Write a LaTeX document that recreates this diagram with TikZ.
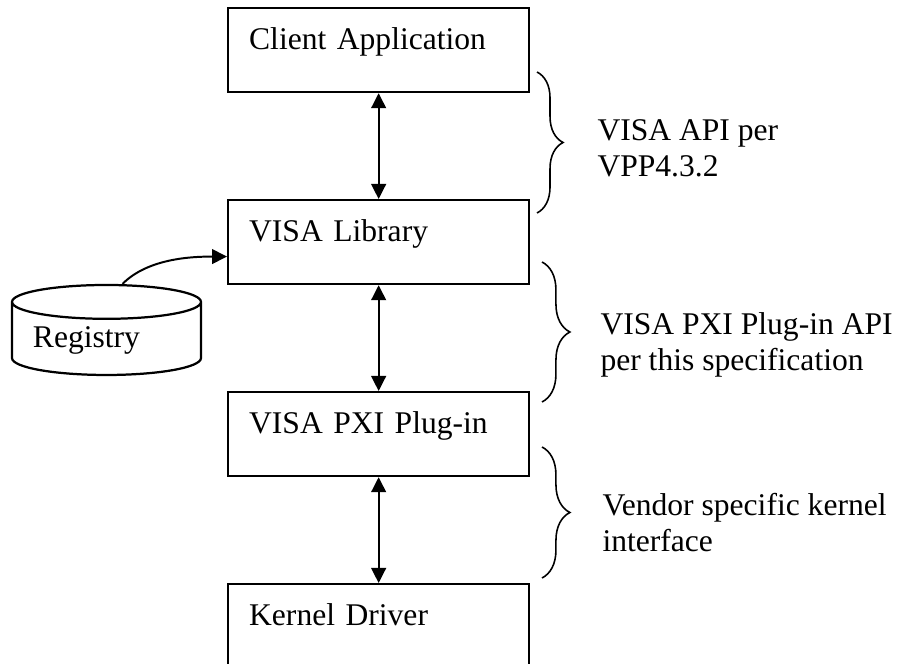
\documentclass[tikz,border=0pt]{standalone}
\usepackage{fontspec}
\setmainfont{Liberation Serif}
\usetikzlibrary{arrows.meta,decorations.pathreplacing,shapes.geometric}

\begin{document}
\begin{tikzpicture}[x=0.38pt,y=0.38pt,
        font=\fontsize{12}{13.7}\selectfont,
        capa/.style={draw,line width=0.85pt,anchor=north west,align=left,
            inner xsep=8pt,inner ysep=0pt,text width=98.4pt,
            text height=15.6pt,text depth=16.3pt},
        punta/.tip={Triangle[length=5.7pt,width=5.6pt]},
        flecha/.style={line width=0.75pt,punta-punta},
        llave/.style={decorate,decoration={brace,amplitude=#1},line width=0.6pt},
        nota/.style={anchor=base west,align=left,inner sep=0pt}]

        % Marco de la figura.
        \useasboundingbox (0,0) rectangle (900,-664);

        % Dibuja las capas de la pila.
        \node[capa] (cliente) at (227,-7)   {Client Application};
        \node[capa] (biblio)  at (227,-199) {VISA Library};
        \node[capa] (plugin)  at (227,-391) {VISA PXI Plug-in};
        \node[capa] (kernel)  at (227,-583) {Kernel Driver};

        % Une las capas con flechas dobles.
        \draw[flecha] (cliente) -- (biblio);
        \draw[flecha] (biblio) -- (plugin);
        \draw[flecha] (plugin) -- (kernel);

        % Dibuja el registro y su flecha hacia la biblioteca.
        \node[cylinder,shape border rotate=90,draw,line width=0.85pt,aspect=0.23,
            minimum width=71.8pt,minimum height=34.2pt,inner sep=0pt,
            text width=55.9pt,align=left,text height=7pt,text depth=0.9pt]
            (registro) at (106.5,-339) {Registry};
        \draw[line width=0.75pt,-punta] ([xshift=6.1pt]registro.north)
            to[out=45,in=180,looseness=0.85] ([yshift=-5.5pt]biblio.west);

        % Marca las interfaces con llaves.
        \draw[llave=9.9pt] (537,-72) -- (537,-213);
        \draw[llave=10.6pt] (542,-262) -- (542,-402);
        \draw[llave=10.6pt] (542,-447) -- (542,-578);

        % Etiqueta las interfaces (la base es la última línea).
        \node[nota] (api)    at (597,-177) {VISA API per\\VPP4.3.2};
        \node[nota] (apipxi) at (600,-371) {VISA PXI Plug-in API\\per this specification};
        \node[nota] (vendor) at (602,-552) {Vendor specific kernel\\interface};
    \end{tikzpicture}
\end{document}
